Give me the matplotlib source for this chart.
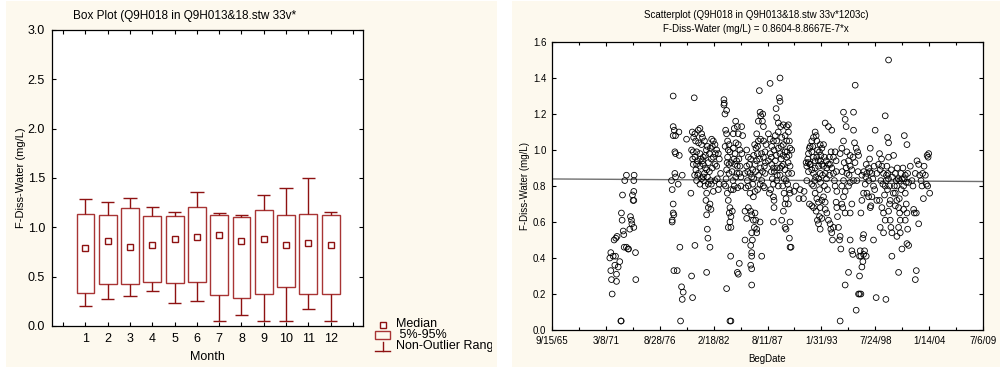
#Box plot by month and scatterplot of F-Diss-Water vs BegDate

import numpy as np
import datetime as dt
import matplotlib
matplotlib.use('Agg')
import matplotlib.pyplot as plt
from matplotlib.patches import Rectangle
from matplotlib.lines import Line2D
from matplotlib.transforms import Bbox, TransformedBbox

plt.rcParams['font.family'] = ['Liberation Sans', 'DejaVu Sans']

#Box plot values per month
months = [1, 2, 3, 4, 5, 6, 7, 8, 9, 10, 11, 12]
med = [0.79, 0.865, 0.80, 0.82, 0.88, 0.90, 0.92, 0.865, 0.88, 0.82, 0.845, 0.82]
p05 = [0.33, 0.43, 0.43, 0.45, 0.44, 0.45, 0.31, 0.28, 0.32, 0.40, 0.32, 0.32]
p95 = [1.14, 1.12, 1.20, 1.11, 1.11, 1.21, 1.12, 1.10, 1.18, 1.12, 1.14, 1.12]
wlo = [0.20, 0.27, 0.30, 0.35, 0.23, 0.25, 0.05, 0.11, 0.05, 0.05, 0.17, 0.05]
whi = [1.29, 1.26, 1.30, 1.21, 1.16, 1.36, 1.15, 1.13, 1.33, 1.40, 1.50, 1.16]

#Scatter values (decimal year, mg/L), grouped by sampling period
grp_71 = [(1971.68, 0.43), (1971.58, 0.40), (1971.92, 0.41), (1972.16, 0.41), (1971.68, 0.33),
          (1971.75, 0.28), (1971.82, 0.20), (1972.09, 0.36), (1972.26, 0.31), (1972.26, 0.27),
          (1972.43, 0.35), (1972.59, 0.38), (1972.02, 0.50), (1972.19, 0.51), (1972.32, 0.52),
          (1972.70, 0.05), (1972.74, 0.05), (1972.76, 0.65), (1972.83, 0.61), (1972.87, 0.75),
          (1972.94, 0.55), (1973.00, 0.53), (1973.04, 0.46), (1973.10, 0.83), (1973.27, 0.86),
          (1973.27, 0.46), (1973.44, 0.45), (1973.48, 0.45), (1973.61, 0.56), (1973.68, 0.63),
          (1973.78, 0.61), (1973.82, 0.59), (1973.88, 0.75), (1973.95, 0.72), (1974.02, 0.72),
          (1974.02, 0.83), (1974.05, 0.86), (1974.02, 0.77), (1974.02, 0.57), (1974.19, 0.43),
          (1974.22, 0.28)]
grp_78 = [(1978.02, 1.30), (1978.02, 1.13), (1978.13, 1.11), (1978.02, 1.08), (1978.26, 1.08),
          (1978.60, 1.10), (1978.19, 0.99), (1978.26, 0.98), (1978.19, 0.87), (1978.26, 0.85),
          (1977.85, 0.83), (1977.92, 0.78), (1978.02, 0.70), (1978.02, 0.65), (1978.09, 0.64),
          (1977.92, 0.61), (1977.92, 0.60), (1978.53, 0.81), (1978.64, 0.97), (1978.94, 0.86),
          (1978.70, 0.46), (1978.09, 0.33), (1978.43, 0.33), (1978.87, 0.24), (1979.04, 0.21),
          (1978.94, 0.17), (1978.77, 0.05)]
grp_81 = [(1979.38, 1.06), (1980.16, 1.29), (1979.96, 1.10), (1980.23, 1.09), (1980.57, 1.11),
          (1980.74, 1.12), (1980.91, 1.09), (1979.89, 1.00), (1980.06, 0.99), (1980.40, 0.99),
          (1980.23, 0.96), (1980.47, 0.94), (1980.74, 0.98), (1981.08, 0.96), (1980.06, 0.92),
          (1980.33, 0.89), (1980.57, 0.87), (1980.74, 0.91), (1981.08, 0.92), (1981.42, 0.89),
          (1980.40, 0.83), (1980.74, 0.81), (1981.08, 0.85), (1981.25, 0.80), (1981.42, 0.76),
          (1981.59, 0.81), (1981.83, 0.83), (1981.35, 0.72), (1981.59, 0.68), (1981.76, 0.70),
          (1981.86, 0.67), (1981.42, 0.64), (1981.49, 0.56), (1981.55, 0.51), (1981.76, 0.46),
          (1979.82, 0.76), (1980.23, 0.47), (1979.99, 0.18), (1979.89, 0.30), (1981.42, 0.32),
          (1981.93, 1.06), (1982.10, 1.05), (1982.27, 1.03), (1982.44, 1.00), (1982.61, 0.98),
          (1982.71, 0.95), (1982.10, 0.96), (1982.27, 0.92), (1982.27, 0.83), (1982.61, 0.78),
          (1982.71, 0.81), (1982.84, 0.87), (1982.44, 0.91), (1980.90, 1.03), (1981.20, 1.05),
          (1981.50, 1.02), (1981.70, 0.98), (1981.00, 0.94), (1981.30, 0.90), (1981.60, 0.93),
          (1981.90, 0.95), (1980.50, 0.86), (1980.90, 0.84), (1981.20, 0.87), (1981.70, 0.88),
          (1982.00, 0.90), (1982.50, 0.84), (1980.30, 1.05), (1981.90, 0.81), (1982.10, 0.77),
          (1980.10, 1.07), (1980.60, 1.04), (1981.00, 1.07), (1981.40, 1.00), (1981.80, 1.01),
          (1980.40, 0.92), (1980.80, 0.95), (1981.10, 0.83), (1981.50, 0.85), (1982.30, 0.98),
          (1982.00, 1.02), (1980.20, 0.86), (1981.30, 0.97), (1980.00, 0.95)]
grp_84 = [(1983.18, 1.28), (1983.21, 1.26), (1983.28, 1.20), (1983.45, 1.22), (1983.18, 1.25),
          (1983.35, 1.11), (1983.45, 1.09), (1983.55, 1.05), (1983.62, 1.00), (1983.79, 0.99),
          (1983.55, 0.96), (1983.69, 0.92), (1983.45, 0.89), (1983.18, 0.81), (1983.35, 0.80),
          (1983.52, 0.76), (1983.62, 0.72), (1983.79, 0.68), (1983.72, 0.65), (1983.89, 0.63),
          (1983.79, 0.60), (1983.62, 0.57), (1983.89, 0.57), (1984.03, 0.66), (1983.86, 0.41),
          (1983.45, 0.23), (1983.79, 0.05), (1983.89, 0.05), (1984.13, 0.78), (1984.13, 1.09),
          (1984.23, 1.12), (1984.37, 1.16), (1984.54, 1.13), (1984.64, 1.09), (1984.64, 1.03),
          (1984.13, 1.01), (1984.30, 0.98), (1984.47, 0.94), (1984.54, 0.91), (1984.74, 0.87),
          (1984.37, 0.85), (1984.23, 0.80), (1984.57, 0.79), (1984.81, 0.91), (1984.98, 1.13),
          (1985.08, 1.08), (1984.74, 0.37), (1984.54, 0.32), (1984.64, 0.31), (1983.90, 0.93),
          (1984.00, 0.88), (1984.30, 0.92), (1984.70, 0.95), (1984.90, 0.85), (1985.00, 0.98),
          (1984.40, 1.04), (1984.90, 0.80), (1983.40, 0.84), (1983.70, 0.87), (1983.30, 1.02),
          (1983.50, 0.93), (1983.70, 1.03), (1984.20, 0.95), (1984.50, 0.87), (1984.80, 1.00),
          (1984.10, 0.83), (1983.90, 0.78)]
grp_86 = [(1985.32, 0.50), (1985.49, 1.00), (1985.66, 0.96), (1985.76, 0.92), (1985.49, 0.91),
          (1985.32, 0.87), (1985.56, 0.83), (1985.66, 0.80), (1985.83, 0.76), (1985.32, 0.66),
          (1985.49, 0.62), (1985.66, 0.68), (1985.90, 0.66), (1986.00, 0.64), (1986.00, 0.54),
          (1986.07, 0.50), (1985.90, 0.47), (1986.00, 0.43), (1986.00, 0.41), (1985.90, 0.36),
          (1986.00, 0.34), (1986.00, 0.25), (1986.17, 0.61), (1986.27, 0.57), (1986.34, 0.65),
          (1986.41, 0.61), (1986.51, 0.54), (1986.51, 0.56), (1986.85, 0.60), (1987.02, 0.41),
          (1986.17, 0.74), (1986.34, 0.77), (1986.10, 0.81), (1985.83, 0.87), (1986.10, 0.89),
          (1986.34, 0.92), (1986.51, 0.94), (1986.58, 0.98), (1986.44, 1.01), (1986.68, 1.05),
          (1986.51, 1.09), (1986.68, 1.16), (1986.85, 1.21), (1986.92, 1.19), (1987.12, 1.20),
          (1987.09, 1.16), (1987.19, 1.13), (1986.78, 1.33), (1986.85, 0.81), (1987.02, 0.83),
          (1987.19, 0.80), (1987.36, 0.87), (1987.29, 0.91), (1987.19, 0.96), (1987.36, 0.99),
          (1987.46, 1.03), (1986.20, 0.84), (1986.60, 0.78), (1986.90, 0.90), (1987.00, 0.98),
          (1986.30, 1.03), (1985.90, 0.95), (1987.30, 0.79), (1986.70, 0.86), (1985.60, 0.88),
          (1986.00, 0.85), (1986.40, 0.88), (1986.80, 0.95), (1987.10, 0.88), (1987.40, 0.93),
          (1986.20, 0.97), (1986.60, 1.02), (1986.90, 1.06), (1987.20, 1.05), (1985.40, 0.79)]
grp_89 = [(1987.87, 1.37), (1988.88, 1.40), (1988.81, 1.29), (1988.88, 1.27), (1988.48, 1.23),
          (1988.54, 1.18), (1988.71, 1.15), (1988.95, 1.13), (1989.22, 1.14), (1989.56, 1.13),
          (1989.73, 1.14), (1987.70, 1.09), (1987.87, 1.06), (1988.04, 1.02), (1988.21, 1.05),
          (1988.27, 1.00), (1987.87, 0.98), (1987.70, 0.94), (1988.04, 0.92), (1988.21, 0.90),
          (1988.54, 1.05), (1988.71, 1.01), (1988.88, 0.98), (1989.05, 1.07), (1989.22, 1.03),
          (1989.39, 0.99), (1989.56, 1.05), (1989.73, 1.10), (1989.83, 1.05), (1989.56, 0.96),
          (1989.22, 0.92), (1989.05, 0.91), (1989.39, 0.89), (1989.73, 0.87), (1989.90, 0.91),
          (1988.88, 0.86), (1988.54, 0.83), (1988.21, 0.81), (1987.93, 0.78), (1987.80, 0.76),
          (1988.21, 0.74), (1988.27, 0.72), (1988.27, 0.68), (1988.21, 0.60), (1989.15, 0.80),
          (1989.29, 0.76), (1989.49, 0.73), (1989.39, 0.70), (1989.22, 0.66), (1989.05, 0.61),
          (1989.39, 0.57), (1989.49, 0.56), (1989.66, 0.81), (1989.83, 0.78), (1989.90, 0.76),
          (1989.73, 0.70), (1989.90, 0.60), (1989.83, 0.51), (1989.90, 0.46), (1990.00, 0.46),
          (1990.07, 0.87), (1990.07, 1.00), (1989.90, 1.01), (1988.00, 0.96), (1988.40, 0.94),
          (1988.60, 0.90), (1988.30, 0.88), (1989.00, 0.95), (1989.60, 0.99), (1988.70, 0.80),
          (1988.10, 0.84), (1989.30, 0.84), (1988.40, 1.08), (1988.70, 1.10), (1989.00, 1.02),
          (1989.40, 1.08), (1988.50, 0.97), (1989.20, 0.97), (1989.70, 0.93), (1988.90, 0.90),
          (1988.00, 0.88), (1989.50, 0.83), (1988.60, 0.86), (1989.80, 0.97)]
grp_91 = [(1990.51, 0.80), (1990.92, 0.78), (1991.33, 0.77), (1991.26, 0.73), (1991.53, 0.93),
          (1991.60, 0.91), (1991.77, 0.93), (1991.94, 0.92), (1991.87, 0.70), (1992.11, 0.69),
          (1992.28, 0.68), (1990.30, 0.77), (1990.80, 0.73)]
grp_93 = [(1991.70, 0.95), (1991.77, 0.98), (1991.87, 1.01), (1991.94, 1.02), (1992.11, 1.05),
          (1992.28, 1.07), (1992.45, 1.10), (1992.55, 1.08), (1992.62, 1.05), (1992.11, 0.99),
          (1992.28, 0.96), (1992.45, 0.94), (1992.62, 0.96), (1992.79, 0.94), (1992.89, 0.99),
          (1993.03, 0.97), (1993.13, 1.01), (1993.30, 1.03), (1992.96, 1.03), (1991.94, 0.92),
          (1992.11, 0.89), (1992.28, 0.87), (1992.45, 0.90), (1992.79, 0.91), (1992.96, 0.87),
          (1993.13, 0.92), (1993.30, 0.91), (1993.47, 0.87), (1993.64, 0.90), (1993.80, 0.92),
          (1993.97, 0.92), (1994.14, 0.90), (1994.31, 0.87), (1991.77, 0.88), (1991.60, 0.83),
          (1992.11, 0.81), (1992.28, 0.80), (1992.45, 0.76), (1992.62, 0.73), (1992.79, 0.71),
          (1992.96, 0.68), (1993.13, 0.72), (1993.30, 0.74), (1993.47, 0.71), (1992.55, 0.66),
          (1992.68, 0.61), (1992.79, 0.59), (1992.96, 0.56), (1992.89, 0.63), (1993.13, 0.62),
          (1993.47, 0.67), (1993.64, 0.65), (1993.80, 0.61), (1993.97, 0.59), (1994.04, 0.56),
          (1994.14, 0.54), (1994.21, 0.50), (1994.31, 0.57), (1993.47, 1.15), (1993.80, 1.13),
          (1994.14, 1.11), (1994.07, 0.99), (1994.31, 0.96), (1994.48, 0.99), (1994.58, 0.94),
          (1994.41, 0.83), (1994.48, 0.80), (1994.65, 0.77), (1994.58, 0.71), (1994.65, 0.68),
          (1994.72, 0.63), (1994.82, 0.57), (1994.99, 0.52), (1995.06, 0.45), (1994.92, 0.50),
          (1994.99, 0.05), (1995.16, 0.70), (1992.50, 0.85), (1993.00, 0.82), (1993.60, 0.84),
          (1993.90, 0.86), (1992.80, 0.84), (1994.60, 0.88), (1993.70, 0.78), (1992.20, 1.02),
          (1992.70, 1.00), (1993.00, 0.94), (1993.40, 0.96), (1993.60, 0.94), (1992.40, 0.83),
          (1993.20, 0.86), (1993.90, 0.96), (1992.90, 0.78), (1993.40, 0.80)]
grp_96 = [(1995.33, 1.21), (1995.50, 1.17), (1995.60, 1.13), (1996.35, 1.21), (1996.52, 1.36),
          (1996.35, 1.11), (1996.45, 1.04), (1996.62, 1.01), (1996.76, 0.99), (1995.33, 1.05),
          (1995.16, 1.01), (1994.99, 0.98), (1995.67, 0.99), (1995.84, 0.94), (1996.01, 0.91),
          (1996.18, 0.89), (1995.67, 0.87), (1995.33, 0.83), (1995.16, 0.80), (1995.50, 0.77),
          (1995.84, 0.80), (1996.01, 0.82), (1996.35, 0.83), (1996.69, 0.83), (1996.86, 0.97),
          (1995.33, 0.74), (1995.26, 0.68), (1995.50, 0.65), (1996.01, 0.65), (1996.18, 0.70),
          (1996.01, 0.50), (1996.18, 0.44), (1996.28, 0.42), (1995.84, 0.32), (1995.50, 0.25),
          (1996.62, 0.11), (1996.86, 0.20), (1996.96, 0.20), (1997.10, 0.20), (1996.96, 0.30),
          (1997.20, 0.35), (1997.30, 0.38), (1997.10, 0.41), (1997.37, 0.42), (1997.47, 0.44),
          (1997.64, 0.41), (1997.37, 0.53), (1997.30, 0.51), (1997.03, 0.44), (1996.96, 0.41),
          (1997.10, 0.65), (1997.37, 0.76), (1997.20, 0.72), (1997.54, 0.81), (1997.71, 0.87),
          (1997.88, 0.90), (1997.64, 0.92), (1997.98, 0.95), (1998.05, 1.01), (1997.71, 0.76),
          (1997.88, 0.74), (1998.05, 0.68), (1998.11, 0.69), (1998.21, 0.74), (1998.38, 0.80),
          (1998.45, 0.91), (1998.55, 1.11), (1998.21, 0.87), (1998.31, 0.84), (1998.38, 0.50),
          (1998.65, 0.18), (1998.72, 0.87), (1998.72, 0.72), (1995.90, 0.86), (1996.50, 0.93),
          (1995.40, 0.93), (1997.40, 0.88), (1997.90, 0.83), (1998.50, 0.78), (1996.80, 0.88),
          (1995.60, 0.90), (1996.30, 0.96), (1996.00, 0.97), (1997.60, 0.85), (1998.00, 0.88),
          (1997.20, 0.86), (1995.20, 0.88)]
grp_00 = [(1998.99, 0.98), (1998.89, 0.92), (1999.06, 0.89), (1999.23, 0.91), (1999.40, 0.87),
          (1999.13, 0.83), (1999.33, 0.81), (1999.57, 0.80), (1998.99, 0.72), (1999.23, 0.68),
          (1999.40, 0.65), (1999.57, 0.61), (1999.06, 0.57), (1999.40, 0.54), (1999.57, 1.19),
          (1999.91, 1.50), (1999.64, 0.17), (1999.81, 1.07), (1999.91, 1.04), (1999.74, 0.91),
          (1999.84, 0.87), (1999.67, 0.83), (1999.91, 0.96), (2000.01, 0.80), (2000.08, 0.72),
          (1999.91, 0.66), (2000.08, 0.61), (2000.15, 0.57), (2000.25, 0.54), (2000.01, 0.70),
          (2000.25, 0.41), (2000.42, 0.97), (2000.59, 0.87), (2000.69, 0.83), (2000.76, 0.80),
          (2000.59, 0.76), (2000.76, 0.72), (2000.93, 0.68), (2001.04, 0.65), (2001.10, 0.61),
          (2000.93, 0.57), (2001.10, 0.54), (2000.76, 0.52), (2000.93, 0.32), (2001.04, 0.83),
          (2001.17, 0.87), (2001.37, 0.90), (2001.51, 1.08), (2001.78, 1.03), (2001.61, 0.86),
          (2001.44, 0.80), (2001.61, 0.76), (2001.71, 0.70), (2001.44, 0.67), (2001.78, 0.65),
          (2001.61, 0.61), (2001.85, 0.56), (2001.78, 0.48), (2001.95, 0.47), (2001.27, 0.45),
          (2001.85, 0.87), (2001.95, 0.82), (1999.50, 0.75), (2000.30, 0.85), (2000.50, 0.80),
          (2001.20, 0.78), (2000.90, 0.84), (1999.80, 0.78), (2001.50, 0.84), (2000.60, 0.69),
          (1999.20, 0.95), (1999.70, 0.86), (2000.20, 0.89), (2000.80, 0.90), (2001.30, 0.84),
          (2001.70, 0.82), (2000.40, 0.76), (2001.00, 0.73), (1999.90, 0.84)]
grp_03 = [(2002.12, 0.91), (2002.29, 0.83), (2002.39, 0.80), (2002.46, 0.67), (2002.53, 0.65),
          (2002.63, 0.87), (2002.80, 0.94), (2002.97, 0.92), (2002.73, 0.65), (2002.97, 0.59),
          (2002.73, 0.33), (2002.63, 0.28), (2003.07, 0.86), (2003.21, 0.83), (2003.31, 0.80),
          (2003.38, 0.87), (2003.45, 0.73), (2003.65, 0.86), (2003.76, 0.81), (2003.83, 0.97),
          (2003.93, 0.96), (2003.99, 0.98), (2004.09, 0.76), (2003.89, 0.80), (2003.52, 0.91)]

#Regression from the chart subtitle (x = Statistica date number)
b0 = 0.8604
b1 = -8.8667e-7

#Date tick labels of the scatter
date_ticks = ['9/15/65', '3/8/71', '8/28/76', '2/18/82', '8/11/87',
              '1/31/93', '7/24/98', '1/14/04', '7/6/09']


def dec_year(s):
    d = dt.datetime.strptime(s, '%m/%d/%y')
    if d.year > 2030:
        d = d.replace(year=d.year - 100)
    y0 = dt.datetime(d.year, 1, 1)
    y1 = dt.datetime(d.year + 1, 1, 1)
    return d.year + (d - y0).total_seconds() / (y1 - y0).total_seconds()


def serial(yr):
    return (yr - 1900) * 365.2425 + 1


fig = plt.figure(figsize=(10, 3.68), dpi=100)
W, H = 1000.0, 368.0

#cream panels
cream = '#FDF9EE'
fig.patches.append(Rectangle((6 / W, 1 / H), 491 / W, 366 / H, transform=fig.transFigure,
                             facecolor=cream, edgecolor='none', zorder=-5))
fig.patches.append(Rectangle((512 / W, 1 / H), 488 / W, 366 / H, transform=fig.transFigure,
                             facecolor=cream, edgecolor='none', zorder=-5))

red_dark = '#8E1212'
red_box = '#A83434'

######## Box plot
ax1 = fig.add_axes([52 / W, 1 - 326 / H, 311 / W, 296 / H])
ax1.set_facecolor('white')
m = np.array(months)
lo = np.array(p05)
hi = np.array(p95)
ax1.bar(m, hi - lo, bottom=lo, width=0.8, fill=False, edgecolor=red_box, linewidth=1.0, zorder=3)
ax1.vlines(m, wlo, lo, color=red_dark, linewidth=1.0, zorder=3)
ax1.vlines(m, hi, whi, color=red_dark, linewidth=1.0, zorder=3)
ax1.hlines(wlo, m - 0.3, m + 0.3, color=red_dark, linewidth=1.0, zorder=3)
ax1.hlines(whi, m - 0.3, m + 0.3, color=red_dark, linewidth=1.0, zorder=3)
ax1.plot(m, med, linestyle='none', marker='s', markersize=4.5, markerfacecolor='white',
         markeredgecolor=red_dark, markeredgewidth=1.0, zorder=4)
ax1.set_xlim(-0.5, 13.45)
ax1.set_ylim(0, 3.0)
ax1.set_xticks(range(0, 14))
ax1.set_xticklabels([''] + [str(k) for k in months] + [''])
ax1.set_yticks(np.arange(0, 3.01, 0.5))
ax1.set_yticklabels(['%.1f' % v for v in np.arange(0, 3.01, 0.5)])
ax1.tick_params(direction='in', length=3, width=0.8, top=True, right=True, labelsize=9, pad=5)
ax1.set_xlabel('Month', fontsize=9, labelpad=4)
ax1.set_ylabel('F-Diss-Water (mg/L)', fontsize=8, labelpad=1)
for sp in ax1.spines.values():
    sp.set_linewidth(0.9)
fig.text(73 / W, 1 - 16 / H, 'Box Plot (Q9H018 in Q9H013&18.stw 33v*', fontsize=8.5,
         ha='left', va='center')

#legend drawn by hand, clipped at the panel edge
def fx(px):
    return px / W


def fy(py):
    return 1 - py / H


fig.add_artist(Line2D([fx(383)], [fy(325)], transform=fig.transFigure,
                      marker='s', markersize=4.5, linestyle='none', markerfacecolor='white',
                      markeredgecolor=red_dark, markeredgewidth=1.0))
fig.patches.append(Rectangle((fx(375), fy(339)), 15 / W, 8 / H, transform=fig.transFigure,
                             fill=False, edgecolor=red_box, linewidth=1.0))
fig.add_artist(Line2D([fx(382.5), fx(382.5)], [fy(342), fy(351)], transform=fig.transFigure,
                      color=red_dark, linewidth=1.0))
fig.add_artist(Line2D([fx(375), fx(390)], [fy(351), fy(351)], transform=fig.transFigure,
                      color=red_dark, linewidth=1.0))
clip = TransformedBbox(Bbox([[0, 0], [492 / W, 1]]), fig.transFigure)
for txt, xp, yp in [('Median', 396, 324), (' 5%-95%', 396, 335), ('Non-Outlier Range', 396, 346)]:
    t = fig.text(fx(xp), fy(yp), txt, fontsize=9, ha='left', va='center')
    t.set_clip_on(True)
    t.set_clip_box(clip)

######## Scatterplot
pts = grp_71 + grp_78 + grp_81 + grp_84 + grp_86 + grp_89 + grp_91 + grp_93 + grp_96 + grp_00 + grp_03
xs = np.array([p[0] for p in pts])
ys = np.array([p[1] for p in pts])

tick_pos = [dec_year(s) for s in date_ticks]
ax2 = fig.add_axes([552 / W, 1 - 330 / H, 431 / W, 288 / H])
ax2.set_facecolor('white')
ax2.scatter(xs, ys, s=17, facecolors='none', edgecolors='black', linewidths=0.6, zorder=3)
xl = np.array([tick_pos[0], tick_pos[-1]])
ax2.plot(xl, b0 + b1 * serial(xl), color='#707070', linewidth=1.0, zorder=2)
ax2.set_xlim(tick_pos[0], tick_pos[-1])
ax2.set_ylim(0, 1.6)
ax2.set_xticks(tick_pos)
ax2.set_xticklabels(date_ticks)
ax2.set_xticks([(a + b) / 2 for a, b in zip(tick_pos[:-1], tick_pos[1:])], minor=True)
ax2.set_yticks(np.arange(0, 1.61, 0.2))
ax2.set_yticklabels(['%.1f' % v for v in np.arange(0, 1.61, 0.2)])
ax2.tick_params(direction='in', length=3, width=0.8, top=True, right=True, labelsize=7, pad=4)
ax2.tick_params(which='minor', direction='in', length=2, width=0.8, top=True)
ax2.set_xlabel('BegDate', fontsize=7, labelpad=6)
ax2.set_ylabel('F-Diss-Water (mg/L)', fontsize=7, labelpad=2)
for sp in ax2.spines.values():
    sp.set_linewidth(0.9)
fig.text(756 / W, 1 - 15 / H, 'Scatterplot (Q9H018 in Q9H013&18.stw 33v*1203c)', fontsize=7,
         ha='center', va='center')
fig.text(756 / W, 1 - 29 / H, 'F-Diss-Water (mg/L) = 0.8604-8.8667E-7*x', fontsize=7,
         ha='center', va='center')

plt.savefig('out.png', dpi=100)
